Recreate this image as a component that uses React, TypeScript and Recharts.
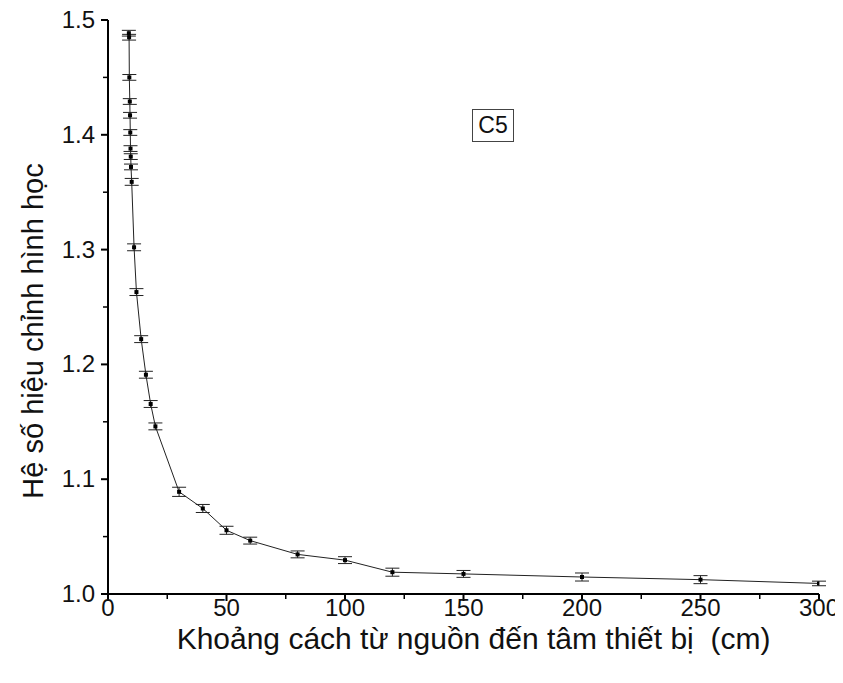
import { ComposedChart, Line, ErrorBar, XAxis, YAxis, Label } from 'recharts'

const distances = [8.8, 8.9, 9.0, 9.2, 9.3, 9.4, 9.5, 9.6, 9.7, 10, 11, 12, 14, 16, 18, 20, 30, 40, 50, 60, 80, 100, 120, 150, 200, 250, 300]
const factors = [1.4885, 1.485, 1.45, 1.429, 1.417, 1.402, 1.388, 1.381, 1.372, 1.359, 1.302, 1.263, 1.222, 1.191, 1.1655, 1.146, 1.089, 1.0745, 1.0555, 1.0465, 1.0345, 1.0295, 1.019, 1.0175, 1.0148, 1.0125, 1.0092]
const errors = [0.0025, 0.0025, 0.0025, 0.0025, 0.0025, 0.0025, 0.0025, 0.0025, 0.0025, 0.003, 0.003, 0.003, 0.003, 0.003, 0.003, 0.003, 0.004, 0.0035, 0.0035, 0.003, 0.003, 0.003, 0.0035, 0.003, 0.0035, 0.0035, 0.002]

const xTicks = [0, 25, 50, 75, 100, 125, 150, 175, 200, 225, 250, 275, 300]
const yTicks = [1.0, 1.05, 1.1, 1.15, 1.2, 1.25, 1.3, 1.35, 1.4, 1.45, 1.5]

const data = distances.map((d, i) => ({ x: d, y: factors[i], err: errors[i] }))

const FONT = '"Liberation Sans", Arial, sans-serif'

function XTick(props: any) {
  const { x, y, payload } = props
  const major = payload.value % 50 === 0
  return (
    <g>
      <line x1={x} x2={x} y1={y} y2={y + (major ? 7 : 5)} stroke="#000" strokeWidth={major ? 2 : 1.5} />
      {major && (
        <text x={x} y={y + 22} textAnchor="middle" fontSize={24} fontFamily={FONT} fill="#111">
          {payload.value}
        </text>
      )}
    </g>
  )
}

function YTick(props: any) {
  const { x, y, payload } = props
  const major = Math.round(payload.value * 100) % 10 === 0
  return (
    <g>
      <line x1={x} x2={x - (major ? 7 : 5)} y1={y} y2={y} stroke="#000" strokeWidth={major ? 2 : 1.5} />
      {major && (
        <text x={x - 13} y={y + 8} textAnchor="end" fontSize={24} fontFamily={FONT} fill="#111">
          {payload.value.toFixed(1)}
        </text>
      )}
    </g>
  )
}

function Dot(props: any) {
  const { cx, cy } = props
  if (cx == null || cy == null) return null
  return <rect x={cx - 2} y={cy - 2} width={4} height={4} fill="#000" />
}

export default function App() {
  return (
    <div style={{ position: 'relative', width: 843, height: 683, margin: '-8px 0 0 -8px', background: '#fff' }}>
      <ComposedChart
        width={843}
        height={683}
        data={data}
        margin={{ top: 20, right: 24, bottom: 29, left: 48 }}
      >
        <XAxis
          dataKey="x"
          type="number"
          domain={[0, 300]}
          ticks={xTicks}
          interval={0}
          tickSize={0}
          tickMargin={0}
          tick={<XTick />}
          height={60}
          stroke="#000"
          strokeWidth={2}
          allowDataOverflow
        >
          <Label
            value={'Khoảng cách từ nguồn đến tâm thiết bị\u00a0\u00a0(cm)'}
            position="insideBottom"
            offset={5}
            dx={10}
            style={{ fontSize: 30, fontFamily: FONT, fill: '#111' }}
          />
        </XAxis>
        <YAxis
          type="number"
          domain={[1.0, 1.5]}
          ticks={yTicks}
          interval={0}
          tickSize={0}
          tickMargin={0}
          tick={<YTick />}
          width={60}
          stroke="#000"
          strokeWidth={2}
          allowDataOverflow
        >
          <Label
            value="Hệ số hiệu chỉnh hình học"
            angle={-90}
            position="center"
            dx={-45}
            dy={24}
            style={{ fontSize: 29, fontFamily: FONT, fill: '#111', textAnchor: 'middle' }}
          />
        </YAxis>
        <Line
          dataKey="y"
          stroke="#222"
          strokeWidth={1}
          dot={<Dot />}
          activeDot={false}
          isAnimationActive={false}
        >
          <ErrorBar dataKey="err" direction="y" width={7} stroke="#222" strokeWidth={1} isAnimationActive={false} />
        </Line>
      </ComposedChart>
      <div
        style={{
          position: 'absolute',
          left: 472,
          top: 109,
          width: 40,
          height: 31,
          border: '1px solid #444',
          fontFamily: FONT,
          fontSize: 23,
          lineHeight: '31px',
          textAlign: 'center',
          color: '#111',
        }}
      >
        C5
      </div>
    </div>
  )
}
